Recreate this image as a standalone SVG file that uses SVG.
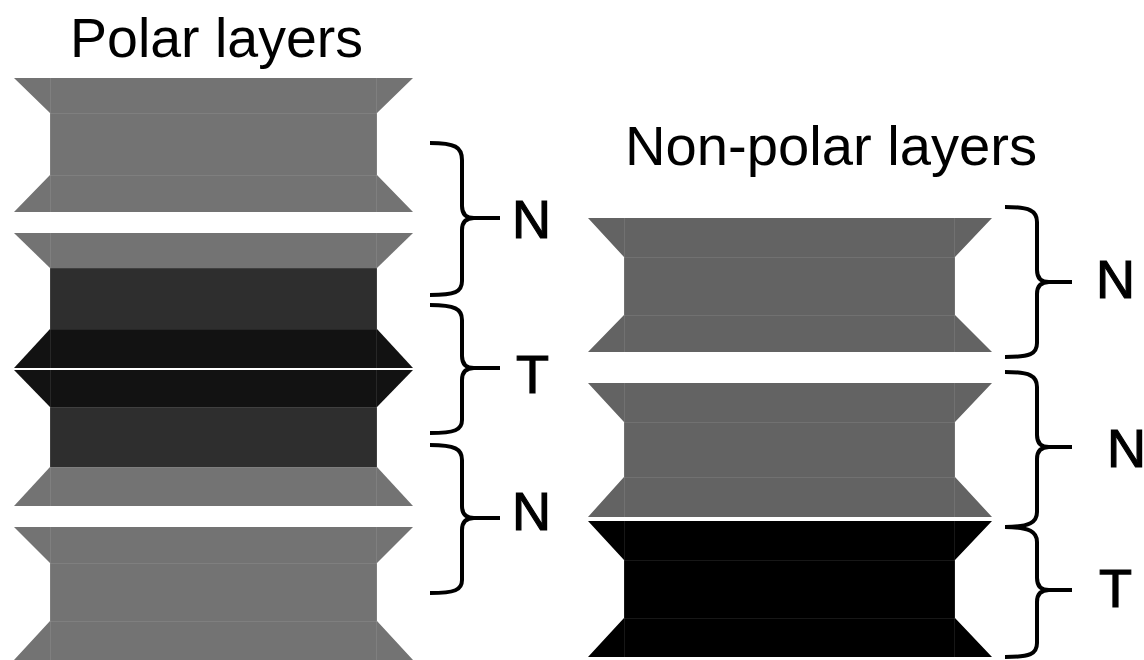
<svg xmlns="http://www.w3.org/2000/svg" width="1144" height="660" viewBox="0 0 1144 660">
  <style>
    .title { font-family: "Liberation Sans", Arial, sans-serif; font-size: 55px; fill: #000; }
    .lbl { font-family: "Liberation Sans", Arial, sans-serif; font-size: 54px; fill: #000; stroke: #000; stroke-width: 1.2; }
    .g1 { fill: #737373; }
    .g2 { fill: #636363; }
    .d1 { fill: #2e2e2e; }
    .d2 { fill: #121212; }
    .blk { fill: #000; }
    .seam { stroke: #ffffff; stroke-opacity: 0.09; stroke-width: 1; fill: none; }
    .brace { fill: none; stroke: #000; stroke-width: 4; stroke-linecap: butt; stroke-linejoin: round; }
  </style>

  <rect width="1144" height="660" fill="#fff"/>

  <!-- titles -->
  <text id="title-polar" class="title" x="70" y="57" textLength="293" lengthAdjust="spacingAndGlyphs">Polar layers</text>
  <text id="title-nonpolar" class="title" x="625" y="165" textLength="412" lengthAdjust="spacingAndGlyphs">Non-polar layers</text>

  <!-- polar stack (left) -->
  <g id="polar-layer-1">
    <polygon class="g1" points="14,78 413,78 377,113 377,175 413,212 14,212 50,175 50,113"/>
    <path class="seam" d="M50.5,78 V212 M376.5,78 V212 M50,113.5 H377 M50,175.5 H377"/>
  </g>

  <g id="polar-layer-2">
    <polygon class="g1" points="14,233 413,233 377,268 50,268"/>
    <rect class="d1" x="50" y="268" width="327" height="61"/>
    <polygon class="d2" points="50,329 377,329 413,368 14,368"/>
    <polygon class="d2" points="14,370 413,370 377,407 50,407"/>
    <rect class="d1" x="50" y="407" width="327" height="60"/>
    <polygon class="g1" points="50,467 377,467 413,506 14,506"/>
    <path class="seam" d="M50.5,233 V506 M376.5,233 V506 M50,268.5 H377 M50,329.5 H377 M50,407.5 H377 M50,467.5 H377"/>
  </g>

  <g id="polar-layer-3">
    <polygon class="g1" points="14,527 413,527 377,563 377,621 413,660 14,660 50,621 50,563"/>
    <path class="seam" d="M50.5,527 V660 M376.5,527 V660 M50,563.5 H377 M50,621.5 H377"/>
  </g>

  <!-- non-polar stack (right) -->
  <g id="nonpolar-layer-1">
    <polygon class="g2" points="588,218 992,218 955,257 955,315 992,352 588,352 624,315 624,257"/>
    <path class="seam" d="M624.5,218 V352 M954.5,218 V352 M624,257.5 H955 M624,315.5 H955"/>
  </g>

  <g id="nonpolar-layer-2">
    <polygon class="g2" points="588,383 992,383 955,422 955,477 992,517 588,517 624,477 624,422"/>
    <path class="seam" d="M624.5,383 V517 M954.5,383 V517 M624,422.5 H955 M624,477.5 H955"/>
  </g>

  <g id="nonpolar-layer-3">
    <polygon class="blk" points="588,521 992,521 955,560 955,618 992,657 588,657 624,618 624,560"/>
    <path class="seam" d="M624.5,521 V657 M954.5,521 V657 M624,560.5 H955 M624,618.5 H955"/>
  </g>

  <!-- braces -->
  <g id="connectors">
    <path class="brace" d="M430,143 C455,143 462,147 462,160 L462,206 C462,214 466,218 474,218 L500,218 M474,218 C466,218 462,222 462,230 L462,281 C462,292 455,295 430,295"/>
    <path class="brace" d="M430,305 C455,305 462,309 462,320 L462,356 C462,364 466,368 474,368 L500,368 M474,368 C466,368 462,372 462,380 L462,420 C462,430 455,433 430,433"/>
    <path class="brace" d="M430,445 C455,445 462,449 462,460 L462,506 C462,514 466,518 474,518 L500,518 M474,518 C466,518 462,522 462,530 L462,580 C462,590 455,593 430,593"/>

    <path class="brace" d="M1005,207 C1030,207 1037,211 1037,222 L1037,270 C1037,278 1041,282 1049,282 L1072,282 M1049,282 C1041,282 1037,286 1037,294 L1037,343 C1037,354 1030,357 1005,357"/>
    <path class="brace" d="M1005,372 C1030,372 1037,376 1037,387 L1037,435 C1037,443 1041,447 1049,447 L1072,447 M1049,447 C1041,447 1037,451 1037,459 L1037,512 C1037,522 1030,527 1005,527"/>
    <path class="brace" d="M1005,527 C1030,527 1037,532 1037,542 L1037,578 C1037,586 1041,590 1049,590 L1072,590 M1049,590 C1041,590 1037,594 1037,602 L1037,643 C1037,654 1030,657 1005,657"/>
  </g>

  <!-- brace labels -->
  <g id="labels">
    <text class="lbl" x="512" y="238">N</text>
    <text class="lbl" x="516" y="393">T</text>
    <text class="lbl" x="512" y="530">N</text>
    <text class="lbl" x="1096" y="298">N</text>
    <text class="lbl" x="1107" y="467">N</text>
    <text class="lbl" x="1099" y="607">T</text>
  </g>
</svg>
